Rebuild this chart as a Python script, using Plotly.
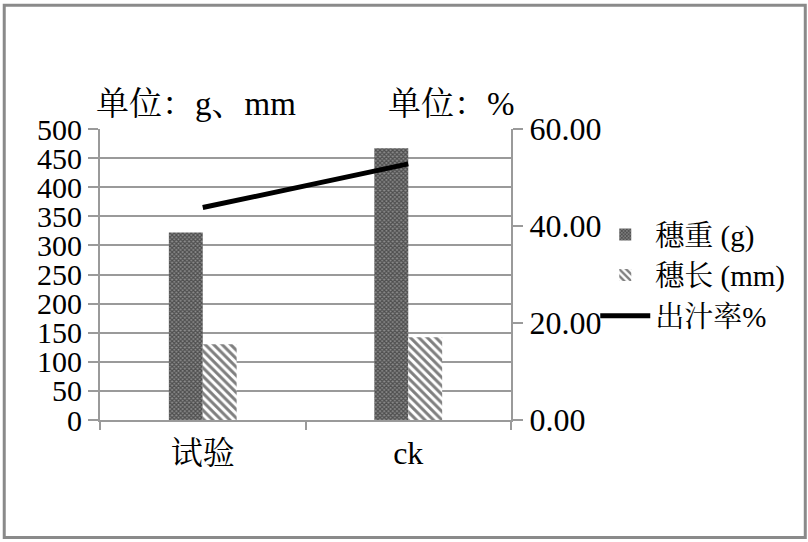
import plotly.graph_objects as go

categories = ["试验", "ck"]
spike_weight = [322, 467]      # 穗重 (g)
spike_length = [130, 142]      # 穗长 (mm)
juice_rate = [43.8, 52.8]      # 出汁率%

left_ticks = list(range(0, 501, 50))
right_ticks = [0, 20, 40, 60]
right_ticktext = ["0.00", "20.00", "40.00", "60.00"]

FONT = "Liberation Serif, Noto Serif CJK SC, Noto Sans CJK SC, serif"
GRAY = "#9a9a9a"

fig = go.Figure()
fig.add_trace(go.Bar(
    x=categories, y=spike_weight, name="穗重 (g)",
    marker=dict(color="white", line=dict(width=0),
                pattern=dict(shape="x", size=3, solidity=0.65,
                             fgcolor="#111111", bgcolor="#8c8c8c")),
))
fig.add_trace(go.Bar(
    x=categories, y=spike_length, name="穗长 (mm)",
    marker=dict(color="white", line=dict(width=0),
                pattern=dict(shape="\\", size=6, solidity=0.5,
                             fgcolor="black", bgcolor="white")),
))
fig.add_trace(go.Scatter(
    x=categories, y=juice_rate, name="出汁率%", yaxis="y2",
    mode="lines", line=dict(color="black", width=5),
))

fig.update_layout(
    width=808, height=542,
    margin=dict(l=100, r=297, t=129, b=122, autoexpand=False),
    paper_bgcolor="white", plot_bgcolor="white",
    font=dict(family=FONT, size=30, color="black"),
    barmode="group", bargap=0.67, bargroupgap=0,
    showlegend=True,
    legend=dict(x=1.205, y=0.725, xanchor="left", yanchor="top",
                font=dict(size=29, family=FONT), bgcolor="rgba(0,0,0,0)",
                traceorder="normal", itemwidth=50, tracegroupgap=0),
    xaxis=dict(type="category", showline=True, linecolor=GRAY, linewidth=2,
               ticks="outside", tickson="boundaries", ticklen=8, tickwidth=2,
               tickcolor=GRAY, showgrid=False, tickfont=dict(size=32),
               ticklabelstandoff=4),
    yaxis=dict(range=[0, 500], tickvals=left_ticks, showline=True,
               linecolor=GRAY, linewidth=2, ticks="outside", ticklen=10,
               tickwidth=2, tickcolor=GRAY, showgrid=True, gridcolor=GRAY,
               gridwidth=2, zeroline=False, tickfont=dict(size=30)),
    yaxis2=dict(range=[0, 60], overlaying="y", side="right",
                tickvals=right_ticks, ticktext=right_ticktext, showline=True,
                linecolor=GRAY, linewidth=2, ticks="outside", ticklen=10,
                tickwidth=2, tickcolor=GRAY, showgrid=False, zeroline=False,
                tickfont=dict(size=32)),
    annotations=[
        dict(text="单位：g、mm", xref="paper", yref="paper", x=-0.015, y=1.086,
             xanchor="left", yanchor="middle", showarrow=False,
             font=dict(size=33, family=FONT)),
        dict(text="单位：%", xref="paper", yref="paper", x=0.695, y=1.086,
             xanchor="left", yanchor="middle", showarrow=False,
             font=dict(size=33, family=FONT)),
    ],
    shapes=[
        dict(type="rect", xref="paper", yref="paper",
             x0=-0.233, x1=1.716, y0=-0.404, y1=1.425,
             line=dict(color="#8a8a8a", width=3), fillcolor="rgba(0,0,0,0)",
             layer="below"),
    ],
)

fig.write_html("out.html", config={"displayModeBar": False},
               post_script="document.body.style.margin='0';")
